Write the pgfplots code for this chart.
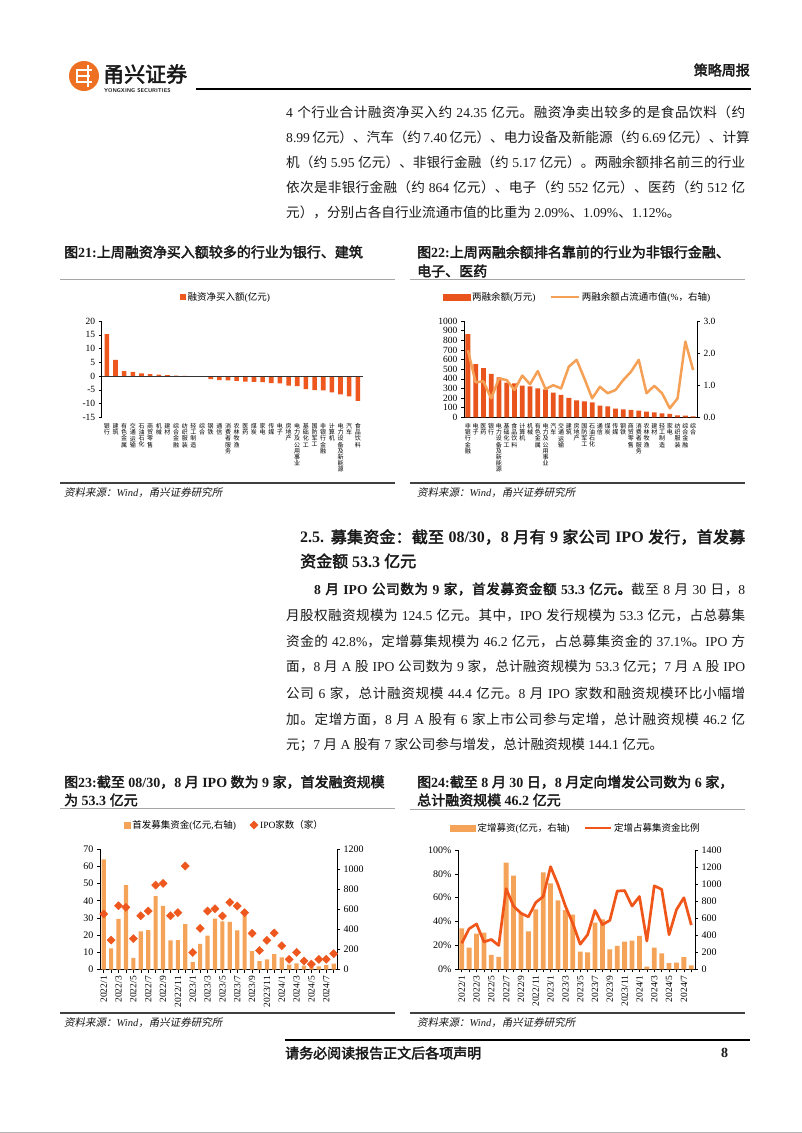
\documentclass[border=0pt]{standalone}
\usepackage{fontspec}
\usepackage{pgfplots}
\pgfplotsset{compat=1.18}
\setmainfont{Liberation Serif}
\newfontfamily\cjkfamily{Noto Sans CJK SC}[AutoFakeBold=2.5,AutoFakeSlant=0.2]
\XeTeXinterchartokenstate=1
\newXeTeXintercharclass\CJKclass
\newcount\cjkcnt
\def\setcjkrange#1#2{\cjkcnt=#1\relax\loop\XeTeXcharclass\cjkcnt=\CJKclass\relax\ifnum\cjkcnt<#2\relax\advance\cjkcnt by 1\relax\repeat}
\setcjkrange{"3000}{"303F}
\setcjkrange{"4E00}{"9FFF}
\setcjkrange{"FF00}{"FFEF}
\XeTeXinterchartoks 0 \CJKclass = {\cjkfamily}
\XeTeXinterchartoks 4095 \CJKclass = {\cjkfamily}
\XeTeXinterchartoks \CJKclass 0 = {\rmfamily}
\XeTeXinterchartoks \CJKclass 4095 = {\rmfamily}
\XeTeXinterchartoks \CJKclass \CJKclass = {\cjkfamily\hskip0pt plus 1pt\relax}
\newcommand\fsz[2]{\fontsize{#1}{#2}\selectfont}
\makeatletter
\newcommand\vt[1]{\vbox{\baselineskip=6.2pt\lineskiplimit=-\maxdimen\lineskip=0pt\@tfor\vt@c:=#1\do{\hbox to 7pt{\hss\vt@c\hss}}}}
\makeatother
\definecolor{c21}{RGB}{238,88,30}
\definecolor{c22bar}{RGB}{232,84,28}
\definecolor{c22line}{RGB}{245,160,85}
\definecolor{c23bar}{RGB}{245,163,88}
\definecolor{c23mk}{RGB}{238,88,30}
\definecolor{c24bar}{RGB}{245,163,88}
\definecolor{c24line}{RGB}{240,85,25}
\definecolor{logoor}{RGB}{238,112,35}
\definecolor{txt}{RGB}{25,25,25}
\pgfplotsset{
  base/.style={scale only axis, /pgf/number format/assume math mode=true,
    /pgf/number format/1000 sep={}, tick align=outside, major tick length=3pt,
    minor tick length=3pt, tick style={black, line width=0.5pt},
    axis line style={black, line width=0.6pt},
    y tick label style={font=\fsz{9.5}{10}}, x tick label style={font=\fsz{9.5}{10}}},
  vlab/.style={major x tick style=transparent, x tick label style={font=\fsz{6}{6.2}, anchor=north, inner sep=0pt, yshift=-3pt}},
  leg/.style={legend style={draw=none, fill=none, font=\fsz{9.5}{10}, anchor=center, legend columns=-1,
    /tikz/every even column/.append style={column sep=12pt}}},
}
\newcommand\jline[3]{\node[anchor=west, inner sep=0pt, txt] at (#1) {\makebox[#2][s]{#3}};}
\newcommand\pline[2]{\node[anchor=west, inner sep=0pt, txt] at (#1) {#2};}
\begin{document}
\begin{tikzpicture}[x=1pt,y=1pt]
\fill[white] (0,0) rectangle (802,-1133);
\path[use as bounding box] (0,0) rectangle (802,-1133);
% header
\fill[logoor] (84,-76) circle (15);
\fill[white] (76,-69) rectangle (92,-71.3);
\fill[white] (76,-75) rectangle (90,-77.3);
\fill[white] (76,-81) rectangle (92,-83.3);
\fill[white] (76,-69) rectangle (78.3,-83.3);
\fill[white] (86.5,-65) rectangle (88.8,-87);
\node[anchor=west, inner sep=0pt, txt] at (103,-74) {\fsz{21}{22}\bfseries 甬兴证券};
\node[anchor=west, inner sep=0pt, txt] at (104,-91) {\fsz{5.5}{6}\sffamily\bfseries YONGXING SECURITIES};
\draw[black, line width=1.3pt] (196,-89) -- (751,-89);
\node[anchor=east, inner sep=0pt, txt] at (750,-70) {\fsz{14}{16}\bfseries 策略周报};
% paragraph 1
\begin{scope}[every node/.append style={font=\fsz{13.6}{15}}]
\jline{286,-112}{459pt}{4 个行业合计融资净买入约 24.35 亿元。融资净卖出较多的是食品饮料（约}
\jline{286,-137}{459pt}{8.99 亿元）、汽车（约 7.40 亿元）、电力设备及新能源（约 6.69 亿元）、计算}
\jline{286,-162}{459pt}{机（约 5.95 亿元）、非银行金融（约 5.17 亿元）。两融余额排名前三的行业}
\jline{286,-187}{459pt}{依次是非银行金融（约 864 亿元）、电子（约 552 亿元）、医药（约 512 亿}
\pline{286,-212}{元），分别占各自行业流通市值的比重为 2.09\%、1.09\%、1.12\%。}
\end{scope}
% chart titles 21/22
\node[anchor=west, inner sep=0pt, txt] at (64,-252) {\fsz{14}{16}\bfseries 图21:上周融资净买入额较多的行业为银行、建筑};
\node[anchor=west, inner sep=0pt, txt] at (417,-252) {\fsz{14}{16}\bfseries 图22:上周两融余额排名靠前的行业为非银行金融、};
\node[anchor=west, inner sep=0pt, txt] at (417,-271) {\fsz{14}{16}\bfseries 电子、医药};
\draw[gray!70, line width=0.9pt] (60,-279) -- (395,-279);
\draw[gray!70, line width=0.9pt] (410,-279) -- (745,-279);
\draw[black!75, line width=1.6pt] (60,-483) -- (395,-483);
\draw[black!75, line width=1.6pt] (410,-483) -- (745,-483);
\node[anchor=west, inner sep=0pt, txt] at (64,-493) {\fsz{10.5}{12}\itshape 资料来源：Wind，甬兴证券研究所};
\node[anchor=west, inner sep=0pt, txt] at (417,-493) {\fsz{10.5}{12}\itshape 资料来源：Wind，甬兴证券研究所};
% chart 21
\begin{axis}[base, vlab, leg, at={(101.7pt,-417.3pt)}, anchor=south west, width=261.3pt, height=96.3pt,
  xmin=-0.6, xmax=29.6, ymin=-15, ymax=20, ytick={-15,-10,...,20},
  axis y line*=left, axis x line*=bottom, x axis line style={draw=none},
  xtick={0,...,29},
  xticklabels={\vt{银行},\vt{建筑},\vt{有色金属},\vt{交通运输},\vt{石油石化},\vt{商贸零售},\vt{机械},\vt{建材},\vt{综合金融},\vt{纺织服装},\vt{轻工制造},\vt{综合},\vt{钢铁},\vt{通信},\vt{消费者服务},\vt{农林牧渔},\vt{医药},\vt{煤炭},\vt{家电},\vt{传媒},\vt{电子},\vt{房地产},\vt{电力及公用事业},\vt{基础化工},\vt{国防军工},\vt{非银行金融},\vt{计算机},\vt{电力设备及新能源},\vt{汽车},\vt{食品饮料}},
  legend style={at={(0.476,1.25)}}]
\addplot[ybar, bar width=4.6pt, fill=c21, draw=none,
  legend image code/.code={\fill[c21] (0pt,-2.7pt) rectangle (5.4pt,2.7pt);}]
  coordinates {(0,15.2)(1,5.9)(2,1.75)(3,1.5)(4,0.95)(5,0.65)(6,0.5)(7,0.3)(8,0.15)(9,0.05)(10,-0.05)(11,-0.1)(12,-1.1)(13,-1.5)(14,-1.6)(15,-1.8)(16,-2.0)(17,-2.1)(18,-2.2)(19,-2.6)(20,-2.7)(21,-3.5)(22,-3.7)(23,-4.8)(24,-5.1)(25,-5.17)(26,-5.95)(27,-6.69)(28,-7.40)(29,-8.99)};
\addlegendentry{融资净买入额(亿元)}
\draw[black!80, line width=0.6pt] (axis cs:-0.6,0) -- (axis cs:29.6,0);
\end{axis}
% chart 22
\begin{axis}[base, vlab, at={(464pt,-417.3pt)}, anchor=south west, width=233pt, height=96.3pt,
  xmin=-0.5, xmax=29.5, ymin=0, ymax=1000, ytick={0,100,...,1000},
  axis y line*=left, axis x line*=bottom, xtick={0,...,29},
  xticklabels={\vt{非银行金融},\vt{电子},\vt{医药},\vt{银行},\vt{电力设备及新能源},\vt{基础化工},\vt{食品饮料},\vt{计算机},\vt{机械},\vt{有色金属},\vt{电力及公用事业},\vt{汽车},\vt{交通运输},\vt{建筑},\vt{房地产},\vt{国防军工},\vt{石油石化},\vt{通信},\vt{煤炭},\vt{传媒},\vt{钢铁},\vt{商贸零售},\vt{消费者服务},\vt{农林牧渔},\vt{建材},\vt{轻工制造},\vt{家电},\vt{纺织服装},\vt{综合金融},\vt{综合}}]
\addplot[ybar, bar width=4.8pt, fill=c22bar, draw=none]
  coordinates {(0,864)(1,552)(2,512)(3,450)(4,415)(5,360)(6,353)(7,329)(8,322)(9,301)(10,291)(11,256)(12,232)(13,201)(14,176)(15,166)(16,156)(17,121)(18,114)(19,90)(20,83)(21,76)(22,69)(23,59)(24,52)(25,42)(26,35)(27,21)(28,17)(29,10)};
\end{axis}
\begin{axis}[base, leg, at={(464pt,-417.3pt)}, anchor=south west, width=233pt, height=96.3pt,
  xmin=-0.5, xmax=29.5, ymin=0, ymax=3, ytick={0,1,2,3},
  yticklabel style={/pgf/number format/.cd, fixed, fixed zerofill, precision=1},
  axis y line*=right, axis x line=none, xtick=\empty,
  legend style={at={(0.487,1.249)}}]
\addlegendimage{legend image code/.code={\fill[c22bar] (0pt,-3pt) rectangle (27pt,3pt);}}
\addlegendentry{两融余额(万元)}
\addplot[c22line, line width=2.5pt, line join=round, mark=none,
  legend image code/.code={\draw[c22line, line width=2.5pt] (0pt,0pt) -- (28pt,0pt);}]
  coordinates {(0,2.09)(1,1.09)(2,1.12)(3,0.59)(4,1.21)(5,1.16)(6,0.85)(7,1.30)(8,1.03)(9,1.44)(10,0.88)(11,1.00)(12,0.90)(13,1.58)(14,1.79)(15,1.21)(16,0.59)(17,0.95)(18,0.75)(19,0.85)(20,1.16)(21,1.42)(22,1.79)(23,0.75)(24,0.98)(25,0.75)(26,0.28)(27,0.59)(28,2.36)(29,1.47)};
\addlegendentry{两融余额占流通市值(\%，右轴)}
\end{axis}
% section 2.5
\jline{300,-537}{445pt}{\fsz{16}{18}\bfseries 2.5. 募集资金：截至 08/30，8 月有 9 家公司 IPO 发行，首发募}
\pline{300,-561}{\fsz{16}{18}\bfseries 资金额 53.3 亿元}
\begin{scope}[every node/.append style={font=\fsz{13.6}{15}}]
\jline{314,-589}{431pt}{{\bfseries 8 月 IPO 公司数为 9 家，首发募资金额 53.3 亿元。}截至 8 月 30 日，8}
\jline{286,-615}{459pt}{月股权融资规模为 124.5 亿元。其中，IPO 发行规模为 53.3 亿元，占总募集}
\jline{286,-641}{459pt}{资金的 42.8\%，定增募集规模为 46.2 亿元，占总募集资金的 37.1\%。IPO 方}
\jline{286,-667}{459pt}{面，8 月 A 股 IPO 公司数为 9 家，总计融资规模为 53.3 亿元；7 月 A 股 IPO}
\jline{286,-693}{459pt}{公司 6 家，总计融资规模 44.4 亿元。8 月 IPO 家数和融资规模环比小幅增}
\jline{286,-719}{459pt}{加。定增方面，8 月 A 股有 6 家上市公司参与定增，总计融资规模 46.2 亿}
\pline{286,-745}{元；7 月 A 股有 7 家公司参与增发，总计融资规模 144.1 亿元。}
\end{scope}
% chart titles 23/24
\node[anchor=west, inner sep=0pt, txt] at (64,-782) {\fsz{14}{16}\bfseries 图23:截至 08/30，8 月 IPO 数为 9 家，首发融资规模};
\node[anchor=west, inner sep=0pt, txt] at (64,-800) {\fsz{14}{16}\bfseries 为 53.3 亿元};
\node[anchor=west, inner sep=0pt, txt] at (417,-782) {\fsz{14}{16}\bfseries 图24:截至 8 月 30 日，8 月定向增发公司数为 6 家，};
\node[anchor=west, inner sep=0pt, txt] at (417,-800) {\fsz{14}{16}\bfseries 总计融资规模 46.2 亿元};
\draw[gray!70, line width=0.9pt] (60,-808) -- (395,-808);
\draw[gray!70, line width=0.9pt] (410,-809) -- (745,-809);
\draw[black!75, line width=1.6pt] (60,-1013) -- (395,-1013);
\draw[black!75, line width=1.6pt] (410,-1013) -- (745,-1013);
\node[anchor=west, inner sep=0pt, txt] at (64,-1023) {\fsz{10.5}{12}\itshape 资料来源：Wind，甬兴证券研究所};
\node[anchor=west, inner sep=0pt, txt] at (417,-1023) {\fsz{10.5}{12}\itshape 资料来源：Wind，甬兴证券研究所};
% chart 23
\begin{axis}[base, at={(100pt,-969.7pt)}, anchor=south west, width=237pt, height=120.7pt,
  xmin=-0.5, xmax=31.45, ymin=0, ymax=70, ytick={0,10,...,70},
  axis y line*=left, axis x line*=bottom,
  xtick={0,2,...,30}, minor xtick={1,3,...,31},
  xticklabels={2022/1,2022/3,2022/5,2022/7,2022/9,2022/11,2023/1,2023/3,2023/5,2023/7,2023/9,2023/11,2024/1,2024/3,2024/5,2024/7},
  x tick label style={rotate=90, anchor=east, font=\fsz{9.5}{10}},
  y tick label style={font=\fsz{10}{11}}]
\addplot[ybar, bar width=4.2pt, fill=c23bar, draw=none]
  coordinates {(0,64)(1,12.4)(2,29.5)(3,49)(4,6.8)(5,22.2)(6,23)(7,42.7)(8,37)(9,17)(10,17.2)(11,26.5)(12,4.4)(13,15)(14,19.7)(15,29.6)(16,28)(17,27.7)(18,22.8)(19,33)(20,10.8)(21,5)(22,6)(23,9)(24,7.2)(25,3)(26,3.7)(27,2.3)(28,1.5)(29,2)(30,2.7)(31,3.5)};
\end{axis}
\begin{axis}[base, leg, at={(100pt,-969.7pt)}, anchor=south west, width=237pt, height=120.7pt,
  xmin=-0.5, xmax=31.45, ymin=0, ymax=1200, ytick={0,200,...,1200},
  axis y line*=right, axis x line=none, xtick=\empty,
  y tick label style={font=\fsz{10}{11}},
  legend style={at={(0.525,1.199)}}]
\addlegendimage{legend image code/.code={\fill[c23bar] (0pt,-3pt) rectangle (6pt,3pt);}}
\addlegendentry{首发募集资金(亿元,右轴)}
\addplot[only marks, mark=square*, mark size=2.9pt, c23mk, mark options={fill=c23mk, draw=c23mk, rotate=45}]
  coordinates {(0,554)(1,295)(2,636)(3,620)(4,308)(5,537)(6,583)(7,842)(8,858)(9,537)(10,567)(11,1031)(12,172)(13,411)(14,583)(15,607)(16,534)(17,670)(18,633)(19,567)(20,361)(21,192)(22,292)(23,365)(24,239)(25,103)(26,172)(27,86)(28,56)(29,103)(30,103)(31,159)};
\addlegendentry{IPO家数（家）}
\end{axis}
% chart 24
\begin{axis}[base, at={(458pt,-969.3pt)}, anchor=south west, width=237pt, height=119.3pt,
  xmin=-0.5, xmax=31.5, ymin=0, ymax=1400, ytick={0,200,...,1400},
  axis y line*=right, axis x line*=bottom,
  xtick={0,2,...,30}, minor xtick={1,3,...,31},
  xticklabels={2022/1,2022/3,2022/5,2022/7,2022/9,2022/11,2023/1,2023/3,2023/5,2023/7,2023/9,2023/11,2024/1,2024/3,2024/5,2024/7},
  x tick label style={rotate=90, anchor=east, font=\fsz{9.5}{10}},
  y tick label style={font=\fsz{10}{11}}]
\addplot[ybar, bar width=4.8pt, fill=c24bar, draw=none]
  coordinates {(0,481)(1,254)(2,420)(3,430)(4,168)(5,145)(6,1251)(7,1099)(8,660)(9,446)(10,704)(11,1138)(12,1009)(13,810)(14,696)(15,641)(16,207)(17,199)(18,548)(19,587)(20,235)(21,274)(22,325)(23,336)(24,391)(25,31)(26,254)(27,188)(28,74)(29,78)(30,144)(31,46)};
\end{axis}
\begin{axis}[base, leg, at={(458pt,-969.3pt)}, anchor=south west, width=237pt, height=119.3pt,
  xmin=-0.5, xmax=31.5, ymin=0, ymax=100, ytick={0,20,...,100},
  yticklabel={\pgfmathprintnumber{\tick}\%},
  axis y line*=left, axis x line=none, xtick=\empty,
  y tick label style={font=\fsz{10}{11}},
  legend style={at={(0.498,1.184)}}]
\addlegendimage{legend image code/.code={\fill[c24bar] (0pt,-3pt) rectangle (25pt,3pt);}}
\addlegendentry{定增募资(亿元，右轴)}
\addplot[c24line, line width=2.7pt, line join=round, mark=none,
  legend image code/.code={\draw[c24line, line width=2.7pt] (0pt,0pt) -- (26pt,0pt);}]
  coordinates {(0,21.8)(1,34)(2,38)(3,23)(4,25)(5,20)(6,67.6)(7,53)(8,47)(9,44)(10,56)(11,61)(12,86)(13,71)(14,53)(15,38.5)(16,21)(17,29)(18,49.4)(19,37.4)(20,41)(21,65.6)(22,66)(23,53)(24,61)(25,23.7)(26,70)(27,67)(28,29)(29,50)(30,60)(31,37.1)};
\addlegendentry{定增占募集资金比例}
\end{axis}
% footer
\draw[black, line width=1.2pt] (285,-1040) -- (750,-1040);
\node[anchor=west, inner sep=0pt, txt] at (285,-1053) {\fsz{14}{16}\bfseries 请务必阅读报告正文后各项声明};
\node[anchor=west, inner sep=0pt, txt] at (721,-1053) {\fsz{14}{16}\bfseries 8};
\draw[gray!60, line width=1pt] (0,-1132.5) -- (802,-1132.5);
\end{tikzpicture}
\end{document}
